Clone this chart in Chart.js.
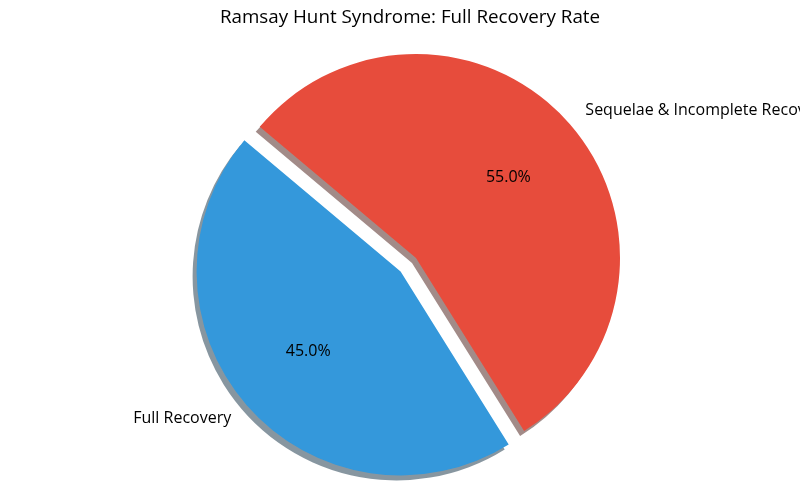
<!DOCTYPE html>
<html>
<head>
<meta charset="utf-8">
<title>Ramsay Hunt Syndrome: Full Recovery Rate</title>
<script src="https://cdn.jsdelivr.net/npm/chart.js@4/dist/chart.umd.min.js"></script>
<style>
    html, body { margin: 0; padding: 0; background: #ffffff; }
    #wrap { width: 800px; height: 487px; }
</style>
</head>
<body>
<div id="wrap"><canvas id="pieChart"></canvas></div>
<script>
const chartTitle = 'Ramsay Hunt Syndrome: Full Recovery Rate';
const outcomes = ['Full Recovery', 'Sequelae & Incomplete Recovery'];
const shares = [45, 55];
const sliceColors = ['#3498db', '#e74c3c'];
const shadowColors = ['rgba(16, 46, 66, 0.5)', 'rgba(69, 23, 18, 0.5)'];
const explode = [0.1, 0];

const FONT = '"Open Sans", Roboto, sans-serif';

// matplotlib-ish extras: exploded slice, drop shadow, outer labels, pct labels
const pieExtras = {
    id: 'pieExtras',
    beforeDatasetsDraw(chart) {
        const ctx = chart.ctx;
        const arcs = chart.getDatasetMeta(0).data;
        arcs.forEach(function(arc, i) {
            const mid = (arc.startAngle + arc.endAngle) / 2;
            const d = explode[i] * arc.outerRadius;
            ctx.save();
            ctx.translate(Math.cos(mid) * d - 4, Math.sin(mid) * d + 5);
            ctx.beginPath();
            ctx.moveTo(arc.x, arc.y);
            ctx.arc(arc.x, arc.y, arc.outerRadius, arc.startAngle, arc.endAngle);
            ctx.closePath();
            ctx.fillStyle = shadowColors[i];
            ctx.fill();
            ctx.restore();
        });
    },
    beforeDatasetDraw(chart, args) {
        const ctx = chart.ctx;
        args.meta.data.forEach(function(arc, i) {
            const mid = (arc.startAngle + arc.endAngle) / 2;
            const d = explode[i] * arc.outerRadius;
            ctx.save();
            ctx.translate(Math.cos(mid) * d, Math.sin(mid) * d);
            arc.draw(ctx);
            ctx.restore();
        });
        return false;
    },
    afterDatasetsDraw(chart) {
        const ctx = chart.ctx;
        const arcs = chart.getDatasetMeta(0).data;
        const total = shares.reduce((a, b) => a + b, 0);
        ctx.save();
        ctx.fillStyle = '#000000';
        ctx.font = '16px ' + FONT;
        ctx.textBaseline = 'middle';
        arcs.forEach(function(arc, i) {
            const mid = (arc.startAngle + arc.endAngle) / 2;
            const r = arc.outerRadius;
            const cx = arc.x + Math.cos(mid) * explode[i] * r;
            const cy = arc.y + Math.sin(mid) * explode[i] * r;

            const lx = cx + Math.cos(mid) * r * 1.1;
            const ly = cy + Math.sin(mid) * r * 1.1;
            ctx.textAlign = Math.cos(mid) > 0 ? 'left' : 'right';
            ctx.fillText(outcomes[i], lx, ly);

            const px = cx + Math.cos(mid) * r * 0.6;
            const py = cy + Math.sin(mid) * r * 0.6;
            ctx.textAlign = 'center';
            ctx.fillText((shares[i] / total * 100).toFixed(1) + '%', px, py);
        });
        ctx.restore();
    },
    afterDraw(chart) {
        const ctx = chart.ctx;
        ctx.save();
        ctx.fillStyle = '#000000';
        ctx.font = '18.8px ' + FONT;
        ctx.textAlign = 'center';
        ctx.textBaseline = 'middle';
        ctx.fillText(chartTitle, 410, 18);
        ctx.restore();
    }
};

new Chart(document.getElementById('pieChart'), {
    type: 'pie',
    data: {
        labels: outcomes,
        datasets: [{
            data: shares,
            backgroundColor: sliceColors,
            borderWidth: 0
        }]
    },
    options: {
        responsive: true,
        maintainAspectRatio: false,
        animation: false,
        rotation: 148,
        radius: 204,
        layout: { padding: { left: 32, right: 0, top: 29, bottom: 0 } },
        plugins: {
            legend: { display: false },
            title: { display: false },
            tooltip: { enabled: false }
        }
    },
    plugins: [pieExtras]
});
</script>
</body>
</html>
